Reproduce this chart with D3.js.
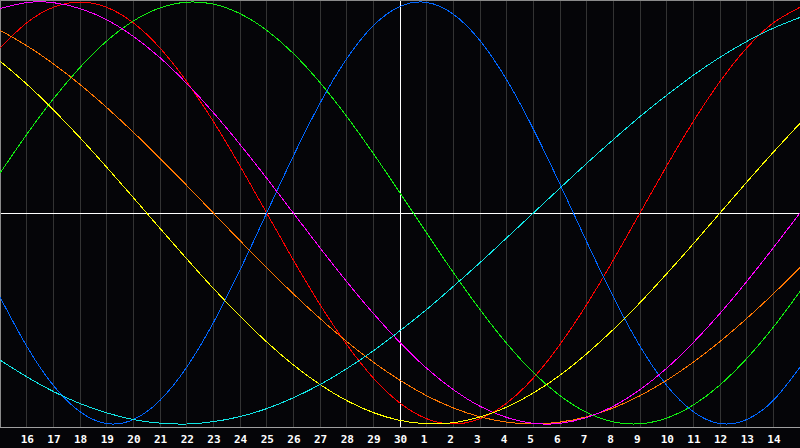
<!DOCTYPE html>
<html><head><meta charset="utf-8">
<script src="https://cdn.jsdelivr.net/npm/d3@7"></script>
<style>html,body{margin:0;padding:0;background:#000;}svg{display:block;}</style>
</head><body>
<svg id="chart" width="800" height="448"></svg>
<script>
// Day labels for each column index 0..30 (15th of month to 15th of next month)
const dayLabels = ["15","16","17","18","19","20","21","22","23","24","25","26","27","28","29","30",
  "1","2","3","4","5","6","7","8","9","10","11","12","13","14","15"];
const tickIndex = d3.range(1, 30);
const todayIndex = 15;

// Daily cycle values (-1..1)
const physical = [-0.398,-0.631,-0.817,-0.942,-0.998,-0.979,-0.888,-0.731,-0.520,-0.270,0,0.270,0.520,0.731,0.888,0.979,0.998,0.942,0.817,0.631,0.398,0.136,-0.136,-0.398,-0.631,-0.817,-0.942,-0.998,-0.979,-0.888,-0.731];
const emotional = [0.782,0.901,0.975,1.000,0.975,0.901,0.782,0.623,0.434,0.223,0,-0.223,-0.434,-0.623,-0.782,-0.901,-0.975,-1.000,-0.975,-0.901,-0.782,-0.623,-0.434,-0.223,0,0.223,0.434,0.623,0.782,0.901,0.975];
const intellectual = [0.189,0.372,0.541,0.690,0.815,0.910,0.972,0.999,0.990,0.945,0.866,0.756,0.618,0.458,0.282,0.095,-0.095,-0.282,-0.458,-0.618,-0.756,-0.866,-0.945,-0.990,-0.999,-0.972,-0.910,-0.815,-0.690,-0.541,-0.372];
const intuitive = [0.969,0.997,0.997,0.969,0.916,0.837,0.736,0.614,0.476,0.325,0.165,0,-0.165,-0.325,-0.476,-0.614,-0.736,-0.837,-0.916,-0.969,-0.997,-0.997,-0.969,-0.916,-0.837,-0.736,-0.614,-0.476,-0.325,-0.165,0];
const aesthetic = [0.720,0.611,0.489,0.357,0.217,0.073,-0.073,-0.217,-0.357,-0.489,-0.611,-0.720,-0.813,-0.889,-0.946,-0.983,-0.999,-0.994,-0.967,-0.920,-0.853,-0.769,-0.667,-0.552,-0.425,-0.288,-0.146,0,0.146,0.288,0.425];
const awareness = [0.866,0.793,0.707,0.609,0.500,0.383,0.259,0.131,0,-0.131,-0.259,-0.383,-0.500,-0.609,-0.707,-0.793,-0.866,-0.924,-0.966,-0.991,-1.000,-0.991,-0.966,-0.924,-0.866,-0.793,-0.707,-0.609,-0.500,-0.383,-0.259];
const spiritual = [-0.697,-0.776,-0.846,-0.903,-0.947,-0.979,-0.996,-1.000,-0.989,-0.965,-0.927,-0.876,-0.813,-0.738,-0.653,-0.558,-0.457,-0.348,-0.235,-0.118,0,0.118,0.235,0.348,0.457,0.558,0.653,0.738,0.813,0.876,0.927];

const seriesNames = ["emotional","physical","intellectual","awareness","intuitive","aesthetic","spiritual"];
const seriesValues = [emotional, physical, intellectual, awareness, intuitive, aesthetic, spiritual];
const seriesColors = ["#ff0000","#0066ff","#11ee11","#ff7700","#ff00ff","#ffff00","#11e6e6"];

const W = 800, H = 448, plotBottom = 427;
const svg = d3.select("#chart");
svg.append("rect").attr("width", W).attr("height", H).attr("fill", "#050508");

const x = d3.scaleLinear().domain([0, dayLabels.length - 1]).range([0, W]);
const y = d3.scaleLinear().domain([-1, 1]).range([424, 2]);

const px = v => Math.floor(v) + 0.5;

// vertical day grid
svg.append("g").selectAll("line").data(tickIndex.filter(i => i !== todayIndex)).join("line")
  .attr("x1", d => px(x(d))).attr("x2", d => px(x(d)))
  .attr("y1", 0).attr("y2", plotBottom)
  .attr("stroke", "#333333").attr("stroke-width", 1).attr("shape-rendering", "crispEdges");

// frame
const frame = svg.append("g").attr("shape-rendering", "crispEdges").attr("stroke", "#8a8a8a");
frame.append("line").attr("x1", 0.5).attr("x2", 0.5).attr("y1", 0).attr("y2", plotBottom);
frame.append("line").attr("x1", 0).attr("x2", W).attr("y1", 0.5).attr("y2", 0.5);
frame.append("line").attr("x1", 0).attr("x2", W).attr("y1", plotBottom + 0.5).attr("y2", plotBottom + 0.5).attr("stroke", "#a0a0a0");

// center line and today line
svg.append("line").attr("x1", 1).attr("x2", W).attr("y1", px(y(0))).attr("y2", px(y(0)))
  .attr("stroke", "#ffffff").attr("shape-rendering", "crispEdges");
svg.append("line").attr("x1", px(x(todayIndex))).attr("x2", px(x(todayIndex))).attr("y1", 1).attr("y2", plotBottom)
  .attr("stroke", "#ffffff").attr("shape-rendering", "crispEdges");

// curves
const line = d3.line().x((d, i) => x(i)).y(d => y(d)).curve(d3.curveNatural);
svg.append("g").selectAll("path").data(seriesValues).join("path")
  .attr("d", d => line(d))
  .attr("fill", "none")
  .attr("stroke", (d, i) => seriesColors[i])
  .attr("stroke-width", 1)
  .attr("shape-rendering", "crispEdges")
  .attr("class", (d, i) => seriesNames[i]);

// axis labels
const axis = d3.axisBottom(x).tickValues(tickIndex).tickFormat(i => dayLabels[i]).tickSize(0).tickPadding(0);
const ag = svg.append("g").attr("transform", `translate(0,${plotBottom})`).call(axis);
ag.select(".domain").remove();
ag.selectAll("text")
  .attr("fill", "#ffffff")
  .attr("text-anchor", "start")
  .attr("x", -6.5)
  .attr("y", 16)
  .attr("dy", null)
  .style("font-family", "'DejaVu Sans Mono', monospace")
  .style("font-weight", "bold")
  .style("font-size", "11px");
</script>
</body></html>
